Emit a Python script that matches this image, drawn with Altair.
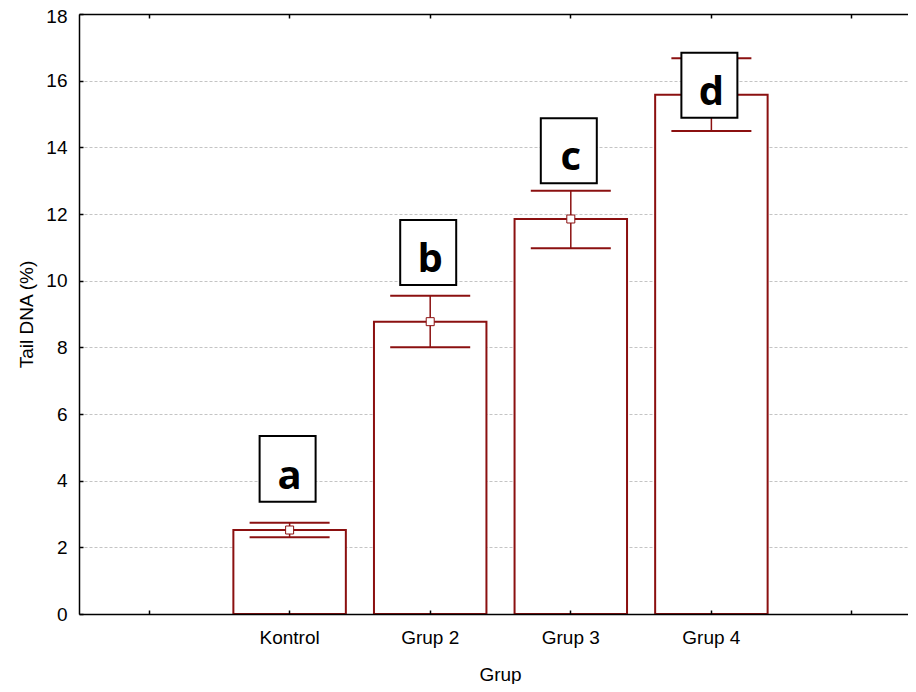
import altair as alt
import pandas as pd

# ---- data ----
categories = ["Kontrol", "Grup 2", "Grup 3", "Grup 4"]
axis_slots = [" ", "Kontrol", "Grup 2", "Grup 3", "Grup 4", "  "]
means = [2.52, 8.77, 11.85, 15.58]
err_low = [2.30, 8.00, 10.97, 14.49]
err_high = [2.74, 9.55, 12.70, 16.67]
letters = ["a", "b", "c", "d"]
box_low = [3.37, 9.87, 12.92, 14.89]
box_high = [5.34, 11.82, 14.87, 16.84]
y_ticks = [0, 2, 4, 6, 8, 10, 12, 14, 16, 18]

df = pd.DataFrame({
    "grup": categories,
    "mean": means,
    "lo": err_low,
    "hi": err_high,
    "letter": letters,
    "blo": box_low,
    "bhi": box_high,
})

DARK_RED = "#8b1010"
FONT = "Liberation Sans"

# the reference plot area runs past the right edge of the picture
xscale = alt.Scale(domain=axis_slots, range=[0, 843], paddingInner=0.2,
                   paddingOuter=0.098, align=0.5)
yscale = alt.Scale(domain=[0, 18], nice=False, zero=True)


def X(axis):
    return alt.X("grup:N", scale=xscale, axis=axis)


main_x = alt.Axis(orient="bottom", title="Grup", domain=True, domainColor="black",
                  domainWidth=1.5, ticks=False, labels=True, labelFont=FONT,
                  labelFontSize=19, labelColor="black", labelPadding=14, labelAngle=0,
                  grid=False, titleFont=FONT, titleFontSize=19, titleFontWeight="normal",
                  titleColor="black", titleX=421, titleY=66, titleAlign="center",
                  titleBaseline="alphabetic", zindex=1)
main_y = alt.Axis(orient="left", title="Tail DNA (%)", values=y_ticks, domain=True,
                  domainColor="black", domainWidth=1.5, ticks=False, labelFont=FONT,
                  labelFontSize=19, labelColor="black", labelPadding=12,
                  labelOffset={"condition": {"test": "datum.value == 18", "value": 2},
                               "value": 0},
                  grid=True, gridColor="#c4c4c4", gridDash=[3, 2], gridWidth=1,
                  titleFont=FONT, titleFontSize=19, titleFontWeight="normal",
                  titleColor="black", titleAngle=270, titleX=-47, titleY=300,
                  titleAlign="center", titleBaseline="alphabetic", zindex=0)
tick_x_bottom = alt.Axis(orient="bottom", offset=-4, tickSize=4, ticks=True,
                         tickColor="black", tickWidth=1.5, domain=False, labels=False,
                         grid=False, title="", zindex=1)
tick_y_left = alt.Axis(orient="left", offset=-4, tickSize=4, ticks=True,
                       tickColor="black", tickWidth=1.5, domain=False, labels=False,
                       grid=False, title="", values=y_ticks, zindex=1)
top_dom = alt.Axis(orient="top", domain=True, domainColor="black", domainWidth=1.5,
                   ticks=False, labels=False, grid=False, title="", zindex=1)
top_ticks = alt.Axis(orient="top", offset=-4, tickSize=4, ticks=True, tickColor="black",
                     tickWidth=1.5, domain=False, labels=False, grid=False, title="",
                     zindex=1)

base = alt.Chart(df)

bars = base.mark_bar(fill="white", stroke=DARK_RED, strokeWidth=2).encode(
    x=X(main_x),
    y=alt.Y("mean:Q", scale=yscale, axis=main_y),
)

rule = base.mark_rule(color=DARK_RED, strokeWidth=1.5).encode(
    x=X(tick_x_bottom),
    y=alt.Y("lo:Q", scale=yscale, axis=tick_y_left),
    y2="hi:Q",
)

caps_lo = base.mark_tick(color=DARK_RED, size=80, thickness=2, opacity=1).encode(
    x=X(top_dom),
    y=alt.Y("lo:Q", scale=yscale, axis=None),
)

caps_hi = base.mark_tick(color=DARK_RED, size=80, thickness=2, opacity=1).encode(
    x=X(None),
    y=alt.Y("hi:Q", scale=yscale, axis=None),
)

points = base.mark_point(shape="square", filled=True, fill="white", stroke=DARK_RED,
                         strokeWidth=1, size=64, opacity=1).encode(
    x=X(top_ticks),
    y=alt.Y("mean:Q", scale=yscale, axis=None),
)

boxes = base.mark_bar(width=56, fill="white", stroke="black", strokeWidth=2,
                      xOffset=-2).encode(
    x=X(None),
    y=alt.Y("blo:Q", scale=yscale, axis=None),
    y2="bhi:Q",
)

text = base.mark_text(font="Open Sans", fontWeight="bold", fontSize=40,
                      baseline="alphabetic", align="center", dy=-13,
                      color="black").encode(
    x=X(None),
    y=alt.Y("blo:Q", scale=yscale, axis=None),
    text="letter:N",
)

chart = alt.layer(bars, rule, caps_lo, caps_hi, points, boxes, text).resolve_scale(
    x="shared", y="shared"
).resolve_axis(
    x="independent", y="independent"
).properties(
    width=829,
    height=600,
    autosize=alt.AutoSizeParams(type="none"),
    padding={"left": 71, "top": 6, "right": 0, "bottom": 70},
).configure_view(stroke=None)

chart.save("out.html", embed_options={"renderer": "svg", "actions": False})
